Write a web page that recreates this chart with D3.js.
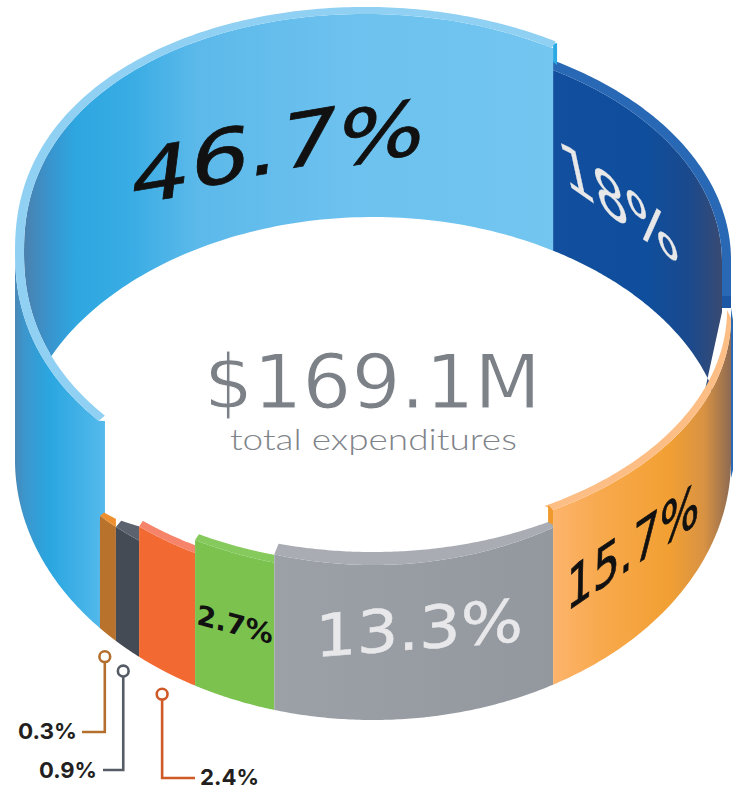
<!DOCTYPE html>
<html><head><meta charset="utf-8">
<script src="https://cdnjs.cloudflare.com/ajax/libs/d3/7.9.0/d3.min.js"></script>
<style>html,body{margin:0;padding:0;background:#fff}svg{display:block}</style>
</head><body><div id="c"></div>
<script>
// ---- data, clockwise from the seam at the upper right
const categories = ["Dark blue","Orange","Gray","Green","Red-orange","Slate","Brown","Light blue"];
const shares = [18,15.7,13.3,2.7,2.4,0.9,0.3,46.7];
const shareLabels = ["18%","15.7%","13.3%","2.7%","2.4%","0.9%","0.3%","46.7%"];
const totalLabel = "$169.1M";
const totalCaption = "total expenditures";

// ---- drawn layout: the artwork widens the thin slices, so the scale is piecewise
const cum = [0].concat(Array.from(d3.cumsum(shares)));
const seamAngles = [30.2,90,149.8,196,209.8,220.8,225.9,229.7,390.2];
const angle = d3.scaleLinear().domain(cum).range(seamAngles);
const CX=373, R=358, rad=Math.PI/180;
const svg=d3.select("#c").append("svg").attr("width",738).attr("height",791);
const defs=svg.append("defs");
function grad(id,x0,x1,stops){
  const g=defs.append("linearGradient").attr("id",id).attr("gradientUnits","userSpaceOnUse")
    .attr("x1",x0).attr("x2",x1).attr("y1",0).attr("y2",0);
  stops.forEach(s=>g.append("stop").attr("offset",s[0]).attr("stop-color",s[1]));
  return `url(#${id})`;
}
const E=(cy,ry,rx=R,p=1,t=0)=>({cy,ry,rx,p,t});
function aligned(e,a){ // angle on ellipse e with the same x as nominal angle a on the outer radius
  const r=a*rad, s=Math.max(-1,Math.min(1,R*Math.sin(r)/e.rx));
  const base=Math.cos(r)>=0?Math.asin(s):Math.PI-Math.asin(s);
  return base+2*Math.PI*Math.round((r-base)/(2*Math.PI));
}
function arc(e,a0,a1,n=90){
  const t0=aligned(e,a0),t1=aligned(e,a1);
  return d3.range(n+1).map(i=>{
    const t=t0+(t1-t0)*i/n, x=CX+e.rx*Math.sin(t), c=Math.cos(t);
    return [x, e.cy-e.ry*Math.sign(c)*Math.pow(Math.abs(c),e.p)+e.t*(x-CX)];
  });
}
const line=d3.line();
const poly=(pts,fill)=>svg.append("path").attr("d",line(pts)+"Z").attr("fill",fill);
const px=a=>CX+R*Math.sin(a*rad);

const A=cum.map(v=>angle(v));
const [aDark,aOrange,aGray,aGreen,aRed,aSlate,aBrown,aBlue,aEnd]=A;

const bottom=E(460,260);
const blueOut=E(257,250,R,0.9,0.015), blueIn=E(257,243,349,0.9,0.015);
const hole=E(432,215,349,1.1);
const darkOut=E(260,231), darkIn=E(262,224,349);

// dark blue back wall
poly([...arc(darkIn,aDark,90),[722,312],[705,390],...arc(hole,72,aDark)],
  grad("gDark",553,724,[[0,"#124f9f"],[0.55,"#0f4e9c"],[0.8,"#1b4a8d"],[1,"#3a4a70"]]));
poly([...arc(darkOut,aDark,90),[731,308],[722,308],...arc(darkIn,90,aDark)],"#2868b4");
poly([[731,296],[731,308],[722,308],[722,296]],"#1c57a6");
// sliver of dark blue showing behind the orange wall at the far right
poly([[731,308],[733,320],[733,470],[731,478]],"#2868b4");

// light blue inner wall
const blueWallFill=grad("gBlueIn",22,553,[[0,"#4c7fac"],[0.05,"#3a93cc"],[0.1,"#2ea6e0"],[0.2,"#38ace4"],[0.33,"#5cb9ea"],[0.6,"#6cc1ee"],[1,"#72c6f0"]]);
poly([...arc(blueIn,aEnd,270),...arc(blueIn,270,244.5,20),...arc(hole,295.5,aEnd)],blueWallFill);
// seam sliver at the end of the blue band
poly([[px(aDark),44],[px(aDark)+4,43],[px(aDark)+4,65],[px(aDark),62]],"#2aa9e3");

// light blue outer wall
poly([...arc(blueOut,270,aBlue+0.3),[px(aBlue)+5,421],[px(aBlue)+5,525],[px(aBlue),527],...arc(bottom,aBlue,270)],
  grad("gBlueOut",15,105,[[0,"#4a88b6"],[0.1,"#3c96cc"],[0.38,"#2aa6e0"],[1,"#55baec"]]));
// blue lip
poly([...arc(blueOut,aEnd+0.5,aBlue+0.3,200),...arc(blueIn,aBlue-1.2,aEnd-0.2,200)],"#90d0f3");

// front slices, right to left: lip top ellipse, lip bottom ellipse, wall and lip fills, lip overhang
const front=[
 {r:90,l:aGray,up:E(310,224,354),lo:E(318,222),lip:"#fdbe85",over:1.6,
  wall:grad("gOr",553,731,[[0,"#fdb46c"],[0.3,"#f7a84a"],[0.65,"#f2a033"],[0.85,"#d89243"],[1,"#8d6a52"]])},
 {r:aGray,l:aGreen,up:E(317,235),lo:E(290,275),lip:"#a9adb3",over:-0.7,
  wall:grad("gGr",275,553,[[0,"#9ca1a8"],[1,"#93989f"]])},
 {r:aGreen,l:aRed,up:E(328,236),lo:E(330,242),wall:"#7cc24e",lip:"#86c95c",over:-0.7},
 {r:aRed,l:aSlate,up:E(337,240),lo:E(344,241),wall:"#f26a32",lip:"#f5846a",over:-0.8},
 {r:aSlate,l:aBrown,up:E(434,122),lo:E(371,224),wall:"#454b54",lip:"#5c636e",over:-1.2},
 {r:aBrown,l:aBlue,up:E(395,178),lo:E(371,224),wall:"#b8722c",lip:"#ee8f30",over:-1.0},
];
[5,4,3,2,1,0].forEach(i=>{
  const f=front[i];
  poly([...arc(f.lo,f.r,f.l),...arc(bottom,f.l,f.r)],f.wall);
  poly([...arc(f.up,f.r,f.l+f.over),...arc(f.lo,f.l,f.r)],f.lip);
  if(i===0) poly([[px(f.l)-5,505],[px(f.l),510],[px(f.l),525],[px(f.l)-5,522]],"#f09a2e");
});

// labels fitted onto the cylinder surface; lift raises single glyphs to follow the curve
function fit(txt,o){
  const t=svg.append("text").text(txt).attr("font-family",o.font).attr("font-size",100)
    .attr("font-weight",o.weight||400).attr("fill",o.fill);
  if(o.lift)t.attr("y",o.lift.join(" "));
  if(o.stroke)t.attr("stroke",o.strokeColor||o.fill).attr("stroke-width",o.stroke);
  const w=t.node().getComputedTextLength(), cap=73;
  const [p0,p1,v]=o.at;
  t.attr("transform",`matrix(${(p1[0]-p0[0])/w},${(p1[1]-p0[1])/w},${-v[0]/cap},${-v[1]/cap},${p0[0]},${p0[1]})`);
}
const dv='"DejaVu Sans",sans-serif';
fit(shareLabels[7],{font:dv,fill:"#111",stroke:1,lift:[0,-8,-11,-13,-4],at:[[128,205],[422,156],[7,-56]]});
fit(shareLabels[0],{font:dv,fill:"#e8e8e8",stroke:0.5,at:[[565,183],[682,266],[-10,-46]]});
fit(shareLabels[1],{font:dv,fill:"#111",stroke:1.5,at:[[566,612],[699,522],[1,-42]]});
fit(shareLabels[2],{font:dv,fill:"#e8e8ea",stroke:0.8,at:[[315,657],[523,641],[0,-43]]});
fit(shareLabels[3],{font:dv,fill:"#111",weight:700,at:[[196,624],[272,644],[2,-20]]});
fit(totalLabel,{font:dv,fill:"#7c8187",stroke:1.5,strokeColor:"#fff",at:[[204,408],[541,408],[0,-54]]});
fit(totalCaption,{font:'Lato,sans-serif',weight:300,fill:"#7f848a",at:[[230,450],[517,450],[0,-22]]});

// leader callouts for the thin slices
const callouts=[
 {i:6,color:"#b46f2e",dx:-3,path:(x,y)=>[[x,y+6],[x,732],[82,732]],tx:18,tw:59,ty:739},
 {i:5,color:"#565c66",dx:-4,path:(x,y)=>[[x,y+6],[x,770],[103,770]],tx:39,tw:58,ty:778},
 {i:4,color:"#cf5a27",dx:-4,path:(x,y)=>[[x,y+6],[x,778],[195,778]],tx:200,tw:59,ty:785},
];
callouts.forEach(c=>{
  const m=(angle(cum[c.i])+angle(cum[c.i+1]))/2;
  const p=arc(bottom,m,m,1)[0], x=p[0]+c.dx, y=p[1]+22;
  svg.append("path").attr("d",d3.line()(c.path(x,y))).attr("fill","none").attr("stroke",c.color).attr("stroke-width",2.6);
  svg.append("circle").attr("cx",x).attr("cy",y).attr("r",5.4).attr("fill","#fff").attr("stroke",c.color).attr("stroke-width",2.6);
  svg.append("text").text(shareLabels[c.i]).attr("x",c.tx).attr("y",c.ty).attr("font-family","Inter,sans-serif")
    .attr("font-weight",700).attr("font-size",22).attr("fill","#231f20")
    .attr("textLength",c.tw).attr("lengthAdjust","spacingAndGlyphs");
});
</script></body></html>
